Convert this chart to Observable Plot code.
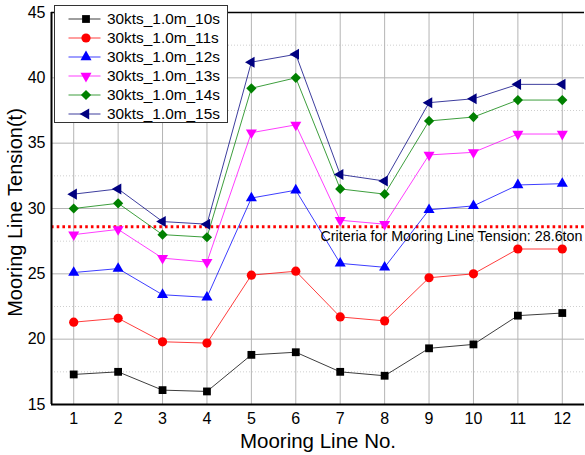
<!DOCTYPE html>
<html>
<head>
<meta charset="utf-8">
<script src="https://cdn.jsdelivr.net/npm/d3@7"></script>
<script src="https://cdn.jsdelivr.net/npm/@observablehq/plot@0.6"></script>
<style>
  html, body { margin: 0; padding: 0; background: #fff; }
</style>
</head>
<body>
<div id="chart"></div>
<script>
// ---- data ----
const lineNos = [1, 2, 3, 4, 5, 6, 7, 8, 9, 10, 11, 12];
const seriesNames = ["30kts_1.0m_10s", "30kts_1.0m_11s", "30kts_1.0m_12s", "30kts_1.0m_13s", "30kts_1.0m_14s", "30kts_1.0m_15s"];
const s10 = [17.3, 17.5, 16.1, 16.0, 18.8, 19.0, 17.5, 17.2, 19.3, 19.6, 21.8, 22.0];
const s11 = [21.3, 21.6, 19.8, 19.7, 24.9, 25.2, 21.7, 21.4, 24.7, 25.0, 26.9, 26.9];
const s12 = [25.1, 25.4, 23.4, 23.2, 30.8, 31.4, 25.8, 25.5, 29.9, 30.2, 31.8, 31.9];
const s13 = [28.0, 28.4, 26.2, 25.9, 35.8, 36.4, 29.1, 28.8, 34.1, 34.3, 35.7, 35.7];
const s14 = [30.0, 30.4, 28.0, 27.8, 39.2, 40.0, 31.5, 31.1, 36.7, 37.0, 38.3, 38.3];
const s15 = [31.1, 31.5, 29.0, 28.8, 41.2, 41.8, 32.6, 32.1, 38.1, 38.4, 39.5, 39.5];
const seriesValues = [s10, s11, s12, s13, s14, s15];
const yTicks = [15, 20, 25, 30, 35, 40, 45];
const yMinor = [17.5, 22.5, 27.5, 32.5, 37.5, 42.5];
const criteria = 28.6;
const criteriaLabel = "Criteria for Mooring Line Tension: 28.6ton";
const xLabel = "Mooring Line No.";
const yLabel = "Mooring Line Tension(t)";

// ---- styles ----
const colors = ["#000000", "#ff0000", "#0000ff", "#ff00ff", "#008000", "#000080"];
const symbols = ["square", "circle", "triangle", "triangle", "diamond2", "triangle"];
const rotations = [0, 0, 0, 180, 0, -90];
const radii = [4.4, 4.6, 4.1, 4.1, 4.6, 4.1];
const d3Symbols = {square: d3.symbolSquare, circle: d3.symbolCircle, triangle: d3.symbolTriangle, diamond2: d3.symbolDiamond2};

const table = [];
seriesNames.forEach((name, i) => {
  lineNos.forEach((x, j) => table.push({series: name, idx: i, x, y: seriesValues[i][j]}));
});

const font = "'Liberation Sans', Arial, sans-serif";

const marks = [
  Plot.ruleY(yMinor, {stroke: "#cfcfcf", strokeDasharray: "1,2", strokeWidth: 1}),
  Plot.ruleX(lineNos, {stroke: "#b4b4b4", strokeWidth: 1}),
  Plot.ruleY(yTicks, {stroke: "#b4b4b4", strokeWidth: 1}),
  Plot.ruleY([criteria], {stroke: "#ff0000", strokeWidth: 3, strokeDasharray: "2.6,3.1"}),
];
seriesNames.forEach((name, i) => {
  const d = table.filter(r => r.idx === i);
  marks.push(Plot.line(d, {x: "x", y: "y", stroke: colors[i], strokeWidth: 0.9, strokeOpacity: 0.85}));
});
seriesNames.forEach((name, i) => {
  const d = table.filter(r => r.idx === i);
  marks.push(Plot.dot(d, {x: "x", y: "y", symbol: symbols[i], r: radii[i], fill: colors[i], stroke: "none", rotate: rotations[i]}));
});
marks.push(
  Plot.text([criteriaLabel], {text: d => d, y: criteria, frameAnchor: "right", textAnchor: "end", lineAnchor: "middle", dx: -2, dy: 10, fontSize: 14.3, fill: "#000"}),
  Plot.ruleY([45], {stroke: "#000", strokeWidth: 1.5}),
  Plot.ruleY([15], {stroke: "#000", strokeWidth: 2}),
  Plot.ruleX([0.5], {stroke: "#000", strokeWidth: 2}),
  Plot.axisX(lineNos, {tickSize: 0, tickPadding: 8, fontSize: 16, label: null}),
  Plot.axisY(yTicks, {tickSize: 0, tickPadding: 6, fontSize: 16, label: null}),
  Plot.text([xLabel], {text: d => d, frameAnchor: "bottom", textAnchor: "middle", lineAnchor: "middle", dy: 37, fontSize: 20.5, fill: "#000"}),
  Plot.text([yLabel], {text: d => d, frameAnchor: "left", textAnchor: "middle", lineAnchor: "middle", dx: -36, dy: 4, rotate: -90, fontSize: 20, fill: "#000"})
);

const chart = Plot.plot({
  width: 585,
  height: 455,
  marginLeft: 51,
  marginRight: 1,
  marginTop: 12,
  marginBottom: 51,
  x: {domain: [0.5, 12.5], axis: null},
  y: {domain: [15, 45], axis: null},
  style: {fontFamily: font, background: "#fff", color: "#000", overflow: "visible"},
  marks
});

// ---- legend (drawn into the same SVG) ----
const svg = d3.select(chart);
const lg = svg.append("g").attr("transform", "translate(54.5,5.5)").attr("text-anchor", "start");
lg.append("rect").attr("width", 173).attr("height", 117).attr("fill", "#fff").attr("stroke", "#333").attr("stroke-width", 1);
seriesNames.forEach((name, i) => {
  const cy = 13.5 + i * 19;
  const row = lg.append("g").attr("transform", `translate(0,${cy})`);
  row.append("line").attr("x1", 14).attr("x2", 46).attr("y1", 0).attr("y2", 0)
    .attr("stroke", colors[i]).attr("stroke-width", 0.9).attr("stroke-opacity", 0.85);
  row.append("path")
    .attr("d", d3.symbol(d3Symbols[symbols[i]], radii[i] * radii[i] * Math.PI)())
    .attr("transform", `translate(31.5,0) rotate(${rotations[i]})`)
    .attr("fill", colors[i]);
  row.append("text").attr("x", 52.5).attr("y", 0).attr("dy", "0.35em")
    .attr("text-anchor", "start")
    .attr("font-family", font).attr("font-size", 15.4).attr("fill", "#000").text(name);
});

document.getElementById("chart").appendChild(chart);
</script>
</body>
</html>
